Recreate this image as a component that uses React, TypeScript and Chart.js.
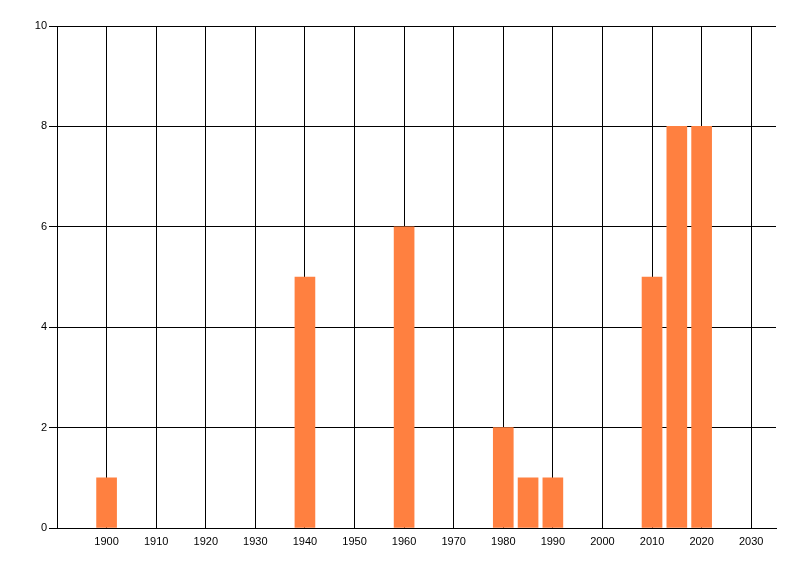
import { useEffect, useRef } from 'react'
import { Chart, registerables } from 'chart.js'

Chart.register(...registerables)

// data
const years = [1900, 1940, 1960, 1980, 1985, 1990, 2010, 2015, 2020]
const counts = [1, 5, 6, 2, 1, 1, 5, 8, 8]
const yearTicks = [1900, 1910, 1920, 1930, 1940, 1950, 1960, 1970, 1980, 1990, 2000, 2010, 2020, 2030]
const countTicks = [0, 2, 4, 6, 8, 10]

const font = { family: '"Liberation Sans", Arial, sans-serif', size: 11 }

export default function App() {
  const chartRef = useRef<HTMLCanvasElement>(null)
  const chartInstance = useRef<Chart | null>(null)

  useEffect(() => {
    document.body.style.margin = '0'
    if (!chartRef.current) return
    if (chartInstance.current) chartInstance.current.destroy()

    const ctx = chartRef.current.getContext('2d')
    if (!ctx) return

    chartInstance.current = new Chart(ctx, {
      type: 'bar',
      data: {
        datasets: [
          {
            data: years.map((x, i) => ({ x, y: counts[i] })),
            backgroundColor: '#ff8040',
            borderWidth: 0,
            barThickness: 20,
          },
        ],
      },
      options: {
        animation: false,
        responsive: false,
        maintainAspectRatio: false,
        layout: { padding: { left: 0, top: 26, right: 24, bottom: 0 } },
        plugins: { legend: { display: false }, tooltip: { enabled: false } },
        scales: {
          x: {
            type: 'linear',
            min: 1890,
            max: 2035,
            offset: false,
            afterBuildTicks: (scale: any) => {
              scale.ticks = yearTicks.map((v) => ({ value: v }))
            },
            afterFit: (scale: any) => {
              scale.height = 48
            },
            grid: { color: '#000', lineWidth: 1, drawTicks: false, offset: false },
            border: { color: '#000', width: 1 },
            ticks: {
              color: '#000',
              font,
              padding: 7,
              maxRotation: 0,
              autoSkip: false,
              callback: (v: any) => String(v),
            },
          },
          y: {
            min: 0,
            max: 10,
            afterBuildTicks: (scale: any) => {
              scale.ticks = countTicks.map((v) => ({ value: v }))
            },
            afterFit: (scale: any) => {
              scale.width = 57
            },
            grid: { color: '#000', lineWidth: 1, tickLength: 8 },
            border: { color: '#000', width: 1 },
            ticks: { color: '#000', font, padding: 2 },
          },
        },
      },
    })

    return () => {
      if (chartInstance.current) {
        chartInstance.current.destroy()
        chartInstance.current = null
      }
    }
  }, [])

  return (
    <div style={{ width: 800, height: 576, background: '#fff' }}>
      <canvas ref={chartRef} width={800} height={576} />
    </div>
  )
}
